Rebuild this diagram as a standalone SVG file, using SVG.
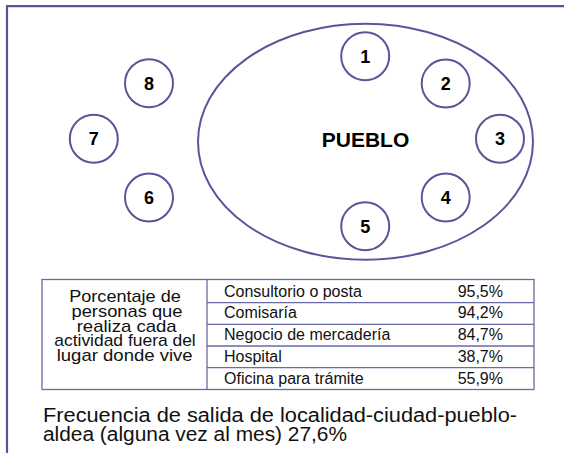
<svg xmlns="http://www.w3.org/2000/svg" width="564" height="453" viewBox="0 0 564 453">
<style>
.frame{fill:none;stroke:#56569b;stroke-width:2.2}
.node{fill:#fff;stroke:#56569b;stroke-width:2}
.num{font-family:"Liberation Sans",Arial,sans-serif;font-weight:bold;font-size:18px;fill:#000;text-anchor:middle}
.tbl{fill:none;stroke:#6a6aa6;stroke-width:1.3}
.cell{font-family:"Liberation Sans",Arial,sans-serif;font-size:16px;fill:#111}
.lbl{font-family:"Liberation Sans",Arial,sans-serif;font-size:17px;fill:#111;text-anchor:middle}
.foot{font-family:"Liberation Sans",Arial,sans-serif;font-size:20px;fill:#111}
</style>
<rect width="564" height="453" fill="#fff"/>
<path class="frame" d="M7 453 V6.2 H564"/>
<g id="pueblo">
<ellipse cx="365.5" cy="141.8" rx="167.5" ry="118" fill="none" stroke="#56569b" stroke-width="2"/>
<text x="365.5" y="146.9" font-family="'Liberation Sans',Arial,sans-serif" font-weight="bold" font-size="21" text-anchor="middle" fill="#000">PUEBLO</text>
</g>
<g id="n1"><circle class="node" cx="365.2" cy="56.2" r="24"/><text class="num" x="365.2" y="62.8">1</text></g>
<g id="n2"><circle class="node" cx="445.7" cy="83.6" r="24"/><text class="num" x="445.7" y="90.2">2</text></g>
<g id="n3"><circle class="node" cx="500" cy="138.8" r="24"/><text class="num" x="500" y="145.4">3</text></g>
<g id="n4"><circle class="node" cx="445.7" cy="197.5" r="24"/><text class="num" x="445.7" y="204.1">4</text></g>
<g id="n5"><circle class="node" cx="365.2" cy="226.3" r="24"/><text class="num" x="365.2" y="232.9">5</text></g>
<g id="n6"><circle class="node" cx="149" cy="197.5" r="24"/><text class="num" x="149" y="204.1">6</text></g>
<g id="n7"><circle class="node" cx="93.8" cy="138.8" r="24"/><text class="num" x="93.8" y="145.4">7</text></g>
<g id="n8"><circle class="node" cx="149" cy="83.3" r="24"/><text class="num" x="149" y="89.9">8</text></g>
<g id="table">
<rect class="tbl" x="42" y="279.5" width="492" height="110"/>
<line class="tbl" x1="207" y1="279.5" x2="207" y2="389.5"/>
<line class="tbl" x1="207" y1="302.7" x2="534" y2="302.7"/>
<line class="tbl" x1="207" y1="324.3" x2="534" y2="324.3"/>
<line class="tbl" x1="207" y1="346" x2="534" y2="346"/>
<line class="tbl" x1="207" y1="367.7" x2="534" y2="367.7"/>
<text class="lbl" x="125" y="302.3" textLength="111.5" lengthAdjust="spacingAndGlyphs">Porcentaje de</text>
<text class="lbl" x="127" y="316.9" textLength="111" lengthAdjust="spacingAndGlyphs">personas que</text>
<text class="lbl" x="126.7" y="331.5" textLength="100" lengthAdjust="spacingAndGlyphs">realiza cada</text>
<text class="lbl" x="125" y="346.1" textLength="141.5" lengthAdjust="spacingAndGlyphs">actividad fuera del</text>
<text class="lbl" x="124.7" y="360.7" textLength="136" lengthAdjust="spacingAndGlyphs">lugar donde vive</text>
<text class="cell" x="224" y="296.8">Consultorio o posta</text>
<text class="cell" x="224" y="318.4">Comisaría</text>
<text class="cell" x="224" y="340.1">Negocio de mercadería</text>
<text class="cell" x="224" y="361.8">Hospital</text>
<text class="cell" x="224" y="383.5">Oficina para trámite</text>
<text class="cell" x="503" y="296.8" text-anchor="end">95,5%</text>
<text class="cell" x="503" y="318.4" text-anchor="end">94,2%</text>
<text class="cell" x="503" y="340.1" text-anchor="end">84,7%</text>
<text class="cell" x="503" y="361.8" text-anchor="end">38,7%</text>
<text class="cell" x="503" y="383.5" text-anchor="end">55,9%</text>
</g>
<g id="footer">
<text class="foot" x="43" y="421.5" textLength="474" lengthAdjust="spacingAndGlyphs">Frecuencia de salida de localidad-ciudad-pueblo-</text>
<text class="foot" x="43" y="440.5" textLength="304" lengthAdjust="spacingAndGlyphs">aldea (alguna vez al mes) 27,6%</text>
</g>
</svg>
